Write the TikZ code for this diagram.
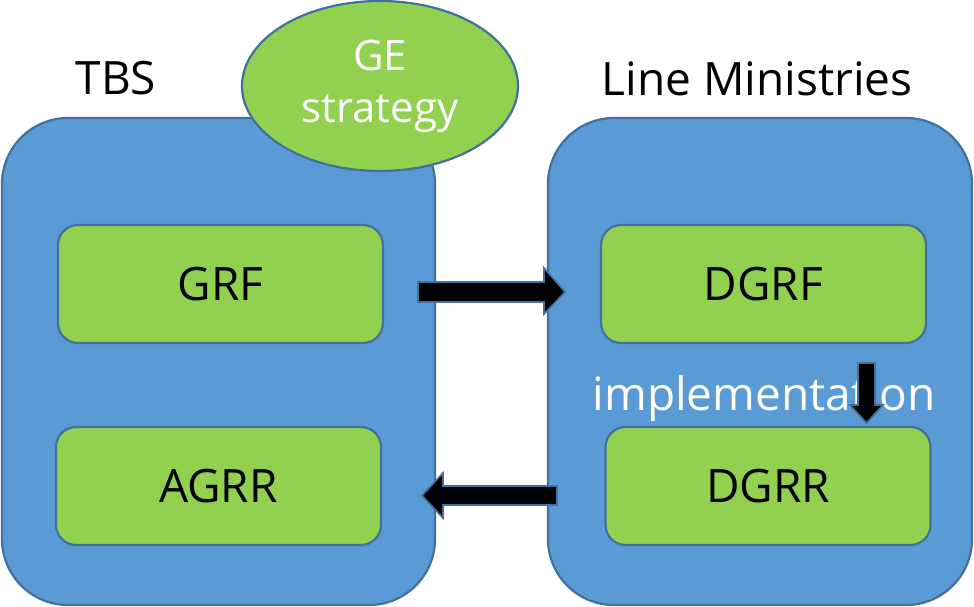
\documentclass[tikz,border=0pt]{standalone}
\usepackage{fontspec}
\setmainfont{Open Sans}
\usetikzlibrary{shapes.geometric}
\definecolor{panelblue}{HTML}{5B9BD5}
\definecolor{edgeblue}{HTML}{41719C}
\definecolor{leafgreen}{HTML}{92D050}
\begin{document}
\begin{tikzpicture}[x=1pt,y=-1pt,
  panel/.style={draw=edgeblue,fill=panelblue,line width=2.2pt,rounded corners=66pt},
  itembox/.style={draw=edgeblue,fill=leafgreen,line width=2.2pt,rounded corners=20pt,
    minimum width=325pt,minimum height=118pt,inner sep=0pt,
    font=\fontsize{46}{50}\selectfont,text=black},
  heading/.style={font=\fontsize{46}{50}\selectfont,text=black,inner sep=0pt,anchor=base},
  blockarrow/.style={draw=edgeblue,fill=black,line width=1.6pt,line join=miter}]
\useasboundingbox (0,0) rectangle (974,606);

% two department panels
\draw[panel] (2,118) rectangle (435,605);
\draw[panel] (548,118) rectangle (972,605);

% strategy ellipse sitting on the left panel
\node[draw=edgeblue,fill=leafgreen,line width=2.2pt,ellipse,minimum width=276pt,
  minimum height=170pt,inner sep=0pt,text=white,align=center,
  font=\fontsize{42}{52}\selectfont] (ge) at (380,86)
  {GE\\strategy};

% headings
\node[heading] (tbs) at (116,94) {TBS};
\node[heading] (lm) at (757,95) {Line Ministries};

% framework boxes
\node[itembox] (grf) at (220.5,284) {GRF};
\node[itembox] (agrr) at (218.5,486) {AGRR};
\node[itembox] (dgrf) at (763.5,284) {DGRF};
\node[itembox] (dgrr) at (768,486) {DGRR};

% label between the ministry boxes
\node[heading,text=white] (impl) at (764,410) {implementation};

% block arrows
\coordinate (r0) at (418,292);
\draw[blockarrow] (r0) ++(0,-10) -- ++(126,0) -- ++(0,-14) -- (565,292)
  -- (544,314) -- ++(0,-12) -- (418,302) -- cycle;
\coordinate (l0) at (557,495.5);
\draw[blockarrow] (l0) ++(0,-9.5) -- (443,486) -- (443,473) -- (422,495.5)
  -- (443,518) -- (443,505) -- (557,505) -- cycle;
\coordinate (d0) at (866.5,363);
\draw[blockarrow] (858,363) -- (875,363) -- (875,405) -- (883,405) -- (866.5,423)
  -- (850,405) -- (858,405) -- cycle;
\end{tikzpicture}
\end{document}
